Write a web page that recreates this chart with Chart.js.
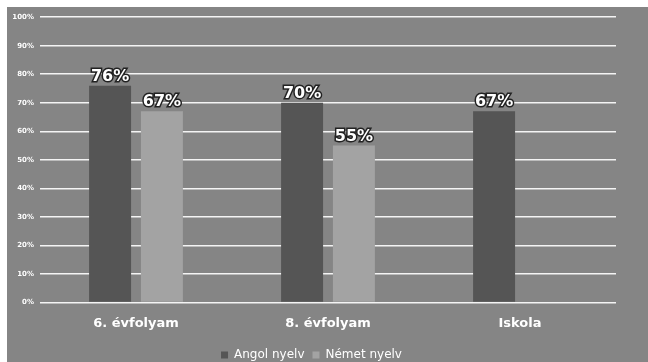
<!DOCTYPE html>
<html>
<head>
<meta charset="utf-8">
<script src="https://cdn.jsdelivr.net/npm/chart.js@4"></script>
<style>
  html, body { margin: 0; padding: 0; background: #fff; }
  #wrap { position: absolute; left: 7px; top: 7px; width: 641px; height: 355px; background: #858585; }
</style>
</head>
<body>
<div id="wrap"><canvas id="myChart"></canvas></div>
<script>
// adatok
const kategoriak = ["6. évfolyam", "8. évfolyam", "Iskola"];
const angolNyelv = [76, 70, 67];
const nemetNyelv = [67, 55, null];
const yTicks = [0, 10, 20, 30, 40, 50, 60, 70, 80, 90, 100];

const ctx = document.getElementById('myChart').getContext('2d');

// szazalek feliratok a oszlopok folott
const ertekFeliratok = {
    id: 'ertekFeliratok',
    afterDatasetsDraw(chart) {
        const c = chart.ctx;
        c.save();
        c.font = 'bold 16px "DejaVu Sans"';
        c.textAlign = 'center';
        c.textBaseline = 'bottom';
        c.lineWidth = 3;
        c.strokeStyle = '#222';
        c.fillStyle = '#fff';
        chart.data.datasets.forEach((ds, i) => {
            chart.getDatasetMeta(i).data.forEach((bar, j) => {
                const v = ds.data[j];
                if (v == null) return;
                c.strokeText(v + '%', bar.x, bar.y - 1);
                c.fillText(v + '%', bar.x, bar.y - 1);
            });
        });
        c.restore();
    }
};

// jelmagyarazat lejjebb tolasa
const legendLe = {
    id: 'legendLe',
    afterLayout(chart) {
        if (chart.legend) {
            chart.legend.top += 5;
            chart.legend.bottom += 5;
        }
    }
};

const myChart = new Chart(ctx, {
    type: 'bar',
    data: {
        labels: kategoriak,
        datasets: [{
            label: 'Angol nyelv',
            data: angolNyelv,
            backgroundColor: '#555555',
            categoryPercentage: 0.54,
            barPercentage: 0.81
        }, {
            label: 'Német nyelv',
            data: nemetNyelv,
            backgroundColor: '#a3a3a3',
            categoryPercentage: 0.54,
            barPercentage: 0.81
        }]
    },
    options: {
        responsive: true,
        maintainAspectRatio: false,
        animation: false,
        layout: { padding: { top: 4, right: 32, bottom: -4, left: 0 } },
        plugins: {
            tooltip: { enabled: false },
            legend: {
                position: 'bottom',
                labels: {
                    color: '#fff',
                    font: { family: '"DejaVu Sans"', size: 12 },
                    boxWidth: 7,
                    boxHeight: 7,
                    padding: 8
                }
            }
        },
        scales: {
            x: {
                grid: { display: false },
                border: { display: false },
                ticks: {
                    color: '#fff',
                    font: { family: '"DejaVu Sans"', size: 13, weight: 'bold' },
                    padding: 5
                }
            },
            y: {
                min: 0,
                max: 100,
                afterFit: (scale) => { scale.width = 33; },
                afterBuildTicks: (scale) => { scale.ticks = yTicks.map(v => ({ value: v })); },
                grid: { color: '#f4f4f4', lineWidth: 1.5, drawTicks: false },
                border: { display: false },
                ticks: {
                    color: '#fff',
                    font: { family: '"DejaVu Sans"', size: 7, weight: 'bold' },
                    padding: 6,
                    callback: (v) => v + '%'
                }
            }
        }
    },
    plugins: [ertekFeliratok, legendLe]
});
</script>
</body>
</html>
